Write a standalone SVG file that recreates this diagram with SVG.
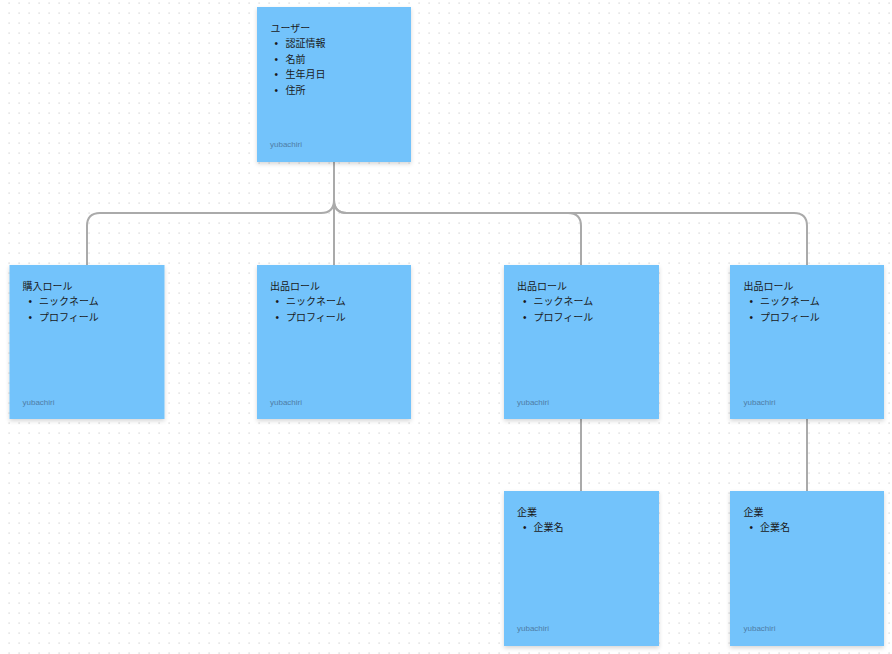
<svg xmlns="http://www.w3.org/2000/svg" width="892" height="654" viewBox="0 0 892 654">
<defs>
<pattern id="dots" x="0" y="0" width="10" height="10" patternUnits="userSpaceOnUse">
<rect x="8.5" y="2.5" width="1.2" height="1.2" fill="#cfcfcf"/>
</pattern>
<filter id="sh" x="-10%" y="-10%" width="120%" height="120%">
<feDropShadow dx="0" dy="2" stdDeviation="2" flood-color="#000" flood-opacity="0.16"/>
</filter>
<style>
.card{fill:#73c3fb;filter:url(#sh)}
.t{font-family:"Noto Sans CJK JP","Noto Sans",sans-serif;font-size:10px;fill:#1a1a1a}
.b{font-family:"Liberation Sans",sans-serif;font-size:10px;fill:#1a1a1a}
.f{font-family:"Liberation Sans",Arial,sans-serif;font-size:8px;fill:#4f7da6}
.c{fill:none;stroke:#aaaaaa;stroke-width:2}
</style>
</defs>
<rect width="892" height="654" fill="#ffffff"/>
<rect width="892" height="654" fill="url(#dots)"/>
<g id="connectors">
<path class="c" d="M334,162 V200 Q334,213 321,213 H100 Q87,213 87,226 V265"/>
<path class="c" d="M334,162 V265"/>
<path class="c" d="M334,162 V200 Q334,213 347,213 H568 Q581,213 581,226 V265"/>
<path class="c" d="M334,162 V200 Q334,213 347,213 H794 Q807,213 807,226 V265"/>
<path class="c" d="M581,419 V491"/>
<path class="c" d="M807,419 V491"/>
</g>
<g id="user">
<rect class="card" x="257" y="7" width="154" height="155"/>
<text class="t" x="270.5" y="31.5">ユーザー</text>
<text class="b" x="274.5" y="47">•</text><text class="t" x="285.5" y="47">認証情報</text>
<text class="b" x="274.5" y="62.5">•</text><text class="t" x="285.5" y="62.5">名前</text>
<text class="b" x="274.5" y="78">•</text><text class="t" x="285.5" y="78">生年月日</text>
<text class="b" x="274.5" y="93.5">•</text><text class="t" x="285.5" y="93.5">住所</text>
<text class="f" x="270" y="147">yubachiri</text>
</g>
<g id="buyer">
<rect class="card" x="9.5" y="265" width="155" height="154"/>
<text class="t" x="22.5" y="289.5">購入ロール</text>
<text class="b" x="28.5" y="305">•</text><text class="t" x="39" y="305">ニックネーム</text>
<text class="b" x="28.5" y="320.5">•</text><text class="t" x="39" y="320.5">プロフィール</text>
<text class="f" x="22.5" y="405">yubachiri</text>
</g>
<g id="seller1">
<rect class="card" x="257" y="265" width="154" height="154"/>
<text class="t" x="270" y="289.5">出品ロール</text>
<text class="b" x="275.5" y="305">•</text><text class="t" x="286" y="305">ニックネーム</text>
<text class="b" x="275.5" y="320.5">•</text><text class="t" x="286" y="320.5">プロフィール</text>
<text class="f" x="270" y="405">yubachiri</text>
</g>
<g id="seller2">
<rect class="card" x="504" y="265" width="155" height="154"/>
<text class="t" x="517" y="289.5">出品ロール</text>
<text class="b" x="523" y="305">•</text><text class="t" x="533.5" y="305">ニックネーム</text>
<text class="b" x="523" y="320.5">•</text><text class="t" x="533.5" y="320.5">プロフィール</text>
<text class="f" x="517" y="405">yubachiri</text>
</g>
<g id="seller3">
<rect class="card" x="730" y="265" width="154" height="154"/>
<text class="t" x="743.5" y="289.5">出品ロール</text>
<text class="b" x="749.5" y="305">•</text><text class="t" x="760" y="305">ニックネーム</text>
<text class="b" x="749.5" y="320.5">•</text><text class="t" x="760" y="320.5">プロフィール</text>
<text class="f" x="743.5" y="405">yubachiri</text>
</g>
<g id="company1">
<rect class="card" x="504" y="491" width="155" height="155"/>
<text class="t" x="517" y="515.5">企業</text>
<text class="b" x="523" y="531">•</text><text class="t" x="533.5" y="531">企業名</text>
<text class="f" x="517" y="631">yubachiri</text>
</g>
<g id="company2">
<rect class="card" x="730" y="491" width="154" height="155"/>
<text class="t" x="743.5" y="515.5">企業</text>
<text class="b" x="749.5" y="531">•</text><text class="t" x="760" y="531">企業名</text>
<text class="f" x="743.5" y="631">yubachiri</text>
</g>
</svg>
